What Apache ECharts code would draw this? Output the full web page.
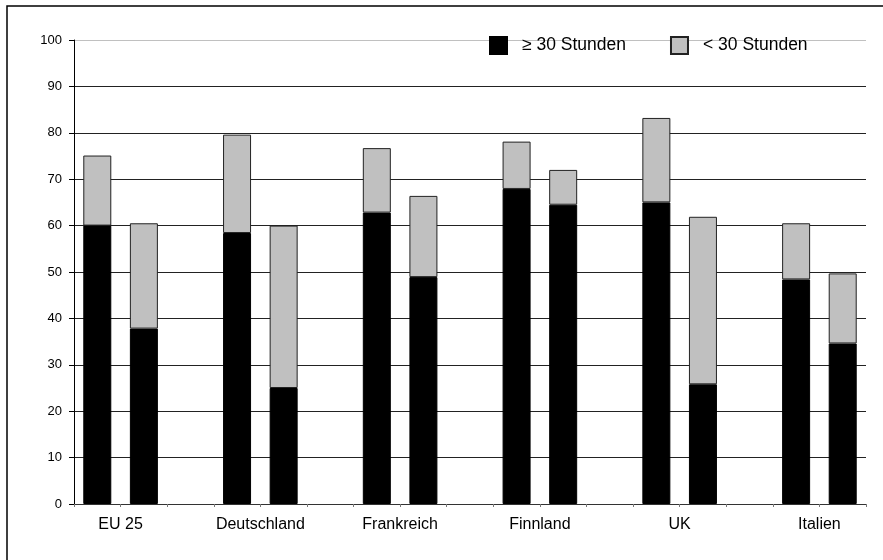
<!DOCTYPE html>
<html>
<head>
<meta charset="utf-8">
<script src="https://cdn.jsdelivr.net/npm/echarts@6/dist/echarts.min.js"></script>
<style>
html,body{margin:0;padding:0;background:#fff;}
#main{width:883px;height:560px;}
</style>
</head>
<body>
<div id="main"></div>
<script>
// Data
var categories = ['EU 25', 'Deutschland', 'Frankreich', 'Finnland', 'UK', 'Italien'];
var seriesNames = ['\u2265 30 Stunden', '< 30 Stunden'];
// first bar of each group
var bar1Over30 = [60.0, 58.4, 62.8, 67.9, 65.0, 48.4];
var bar1Under30 = [15.1, 21.2, 13.9, 10.2, 18.2, 12.1];
// second bar of each group
var bar2Over30 = [37.8, 25.0, 48.9, 64.5, 25.8, 34.6];
var bar2Under30 = [22.7, 35.0, 17.5, 7.5, 36.1, 15.1];
var yTicks = [0, 10, 20, 30, 40, 50, 60, 70, 80, 90, 100];

// Build slot layout: bar, bar, gap, bar, bar, gap, ... (17 slots)
function slots(a, b) {
  var out = [];
  for (var i = 0; i < categories.length; i++) {
    out.push(a[i]); out.push(b[i]);
    if (i < categories.length - 1) out.push(null);
  }
  return out;
}
var slotNames = [];
for (var s = 0; s < categories.length * 3 - 1; s++) slotNames.push('s' + s);
var labelPositions = categories.map(function (c, i) { return i * 3 + 1; });

var font = 'Liberation Sans, Arial, sans-serif';
var gridColors = yTicks.map(function (v) { return v === 100 ? '#c0c0c0' : '#222'; });

var chart = echarts.init(document.getElementById('main'));
chart.setOption({
  animation: false,
  backgroundColor: '#fff',
  textStyle: { fontFamily: font },
  graphic: [{
    type: 'rect', z: -10,
    shape: { x: 7, y: 6, width: 1000, height: 1000 },
    style: { fill: 'none', stroke: '#000', lineWidth: 1.5 }
  }],
  legend: {
    left: 489, top: 36, padding: 0, itemGap: 44,
    itemWidth: 17, itemHeight: 17, icon: 'rect',
    data: seriesNames,
    textStyle: { fontFamily: font, fontSize: 17.5, color: '#000', padding: [0, 0, 0, 10] }
  },
  grid: { left: 74, right: 17, top: 40, bottom: 56, containLabel: false },
  xAxis: [{
    type: 'category', data: slotNames, boundaryGap: true,
    axisLine: { lineStyle: { color: '#333', width: 1 } },
    axisTick: { show: true, length: 3, lineStyle: { color: '#777' } },
    axisLabel: { show: false },
    splitLine: { show: false }
  }, {
    type: 'value', min: 0, max: 17, position: 'bottom',
    axisLine: { show: false }, axisTick: { show: false }, splitLine: { show: false },
    axisLabel: {
      customValues: labelPositions,
      margin: 13, fontSize: 16, color: '#000', fontFamily: font,
      formatter: function (v) { return categories[Math.round((v - 1) / 3)] || ''; }
    }
  }],
  yAxis: {
    type: 'value', min: 0, max: 100, interval: 10,
    axisLine: { show: true, lineStyle: { color: '#000', width: 1 } },
    axisTick: { show: true, length: 5, lineStyle: { color: '#000' } },
    axisLabel: { fontSize: 13, color: '#000', margin: 12, fontFamily: font },
    splitLine: { show: true, lineStyle: { color: gridColors, width: 1 } }
  },
  series: [{
    name: seriesNames[0], type: 'bar', stack: 'total', xAxisIndex: 0,
    barWidth: 28,
    data: slots(bar1Over30, bar2Over30),
    itemStyle: { color: '#000', borderColor: '#000', borderWidth: 1 }
  }, {
    name: seriesNames[1], type: 'bar', stack: 'total', xAxisIndex: 0,
    barWidth: 28,
    data: slots(bar1Under30, bar2Under30),
    itemStyle: { color: '#c0c0c0', borderColor: '#222', borderWidth: 1 }
  }]
});
</script>
</body>
</html>
